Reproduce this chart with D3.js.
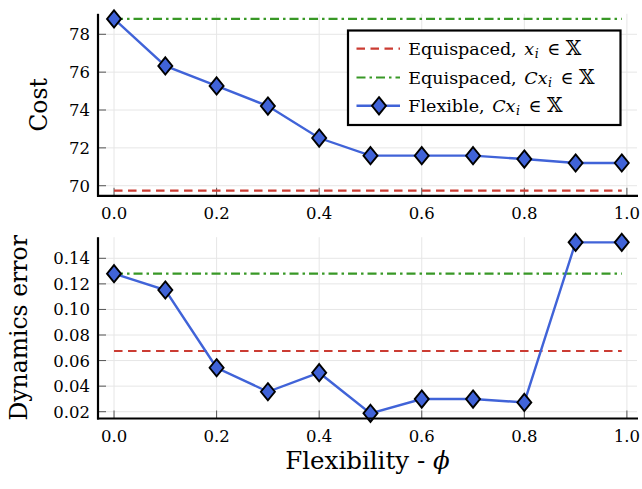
<!DOCTYPE html>
<html>
<head>
<meta charset="utf-8">
<script src="https://cdn.jsdelivr.net/npm/d3@7"></script>
<style>
  html, body { margin: 0; padding: 0; background: #fff; }
  svg { display: block; }
  text { font-family: "DejaVu Serif", "DejaVu Sans", serif; fill: #000; }
</style>
</head>
<body>
<div id="chart"></div>
<script>
// ---------------- data ----------------
const phi = [0, 0.1, 0.2, 0.3, 0.4, 0.5, 0.6, 0.7, 0.8, 0.9, 0.99];
const costFlexible = [78.81, 76.33, 75.27, 74.21, 72.52, 71.59, 71.59, 71.59, 71.41, 71.2, 71.2];
const costEquiX = 69.74;
const costEquiCX = 78.81;
const errFlexible = [0.128, 0.1152, 0.0544, 0.0356, 0.0505, 0.0187, 0.0299, 0.0299, 0.0273, 0.1525, 0.1525];
const errEquiX = 0.0675;
const errEquiCX = 0.128;
const xTicks = [0, 0.2, 0.4, 0.6, 0.8, 1.0];
const costTicks = [70, 72, 74, 76, 78];
const errTicks = [0.02, 0.04, 0.06, 0.08, 0.10, 0.12, 0.14];
const legendLabels = [
  ["Equispaced, ", "x", "i", " ∈ ", "𝕏"],
  ["Equispaced, ", "Cx", "i", " ∈ ", "𝕏"],
  ["Flexible, ", "Cx", "i", " ∈ ", "𝕏"]
];

// ---------------- styles ----------------
const W = 642, H = 489;
const BLUE = "#4063d8", RED = "#cb3c33", GREEN = "#389826";
const GRID = "#e6e6e6", TICK = "#555";
const RED_DASH = "8.5,5.5", GREEN_DASH = "9,4,2.5,4";

const svg = d3.select("#chart").append("svg").attr("width", W).attr("height", H);

function pad(vals) {
  const lo = d3.min(vals), hi = d3.max(vals), p = (hi - lo) * 0.03;
  return [lo - p, hi + p];
}

const xDom = pad(phi);
const x = d3.scaleLinear().domain(xDom).range([98.8, 637]);

function diamond(g, cx, cy) {
  g.append("path")
    .attr("d", `M${cx},${cy - 8.6} L${cx + 7},${cy} L${cx},${cy + 8.6} L${cx - 7},${cy} Z`)
    .attr("fill", BLUE).attr("stroke", "#000").attr("stroke-width", 1.9)
    .attr("stroke-linejoin", "miter");
}

function panel(opt) {
  const g = svg.append("g");
  const y = d3.scaleLinear().domain(pad(opt.values.concat([opt.equiX, opt.equiCX]))).range([opt.bottom, opt.top]);
  const L = x.range()[0], R = x.range()[1];
  const T = opt.top, B = opt.bottom;

  // grid
  g.selectAll(".gx").data(xTicks).enter().append("line")
    .attr("x1", d => x(d)).attr("x2", d => x(d)).attr("y1", T).attr("y2", B)
    .attr("stroke", GRID).attr("stroke-width", 1);
  g.selectAll(".gy").data(opt.ticks).enter().append("line")
    .attr("x1", L).attr("x2", R).attr("y1", d => y(d)).attr("y2", d => y(d))
    .attr("stroke", GRID).attr("stroke-width", 1);

  // tick marks (inward)
  g.selectAll(".tx").data(xTicks).enter().append("line")
    .attr("x1", d => x(d)).attr("x2", d => x(d)).attr("y1", B).attr("y2", B - 8)
    .attr("stroke", TICK).attr("stroke-width", 1);
  g.selectAll(".ty").data(opt.ticks).enter().append("line")
    .attr("x1", 98).attr("x2", 106).attr("y1", d => y(d)).attr("y2", d => y(d))
    .attr("stroke", TICK).attr("stroke-width", 1);

  // tick labels
  g.selectAll(".lx").data(xTicks).enter().append("text")
    .attr("x", d => x(d)).attr("y", B + 23).attr("text-anchor", "middle")
    .attr("font-size", 16.5).text(d => d3.format(".1f")(d));
  g.selectAll(".ly").data(opt.ticks).enter().append("text")
    .attr("x", 90).attr("y", d => y(d)).attr("dy", "0.36em").attr("text-anchor", "end")
    .attr("font-size", 16.5).text(d => opt.fmt(d));

  // reference lines
  const hl = d3.line().x(d => x(d[0])).y(d => y(d[1]));
  g.append("path").attr("d", hl([[phi[0], opt.equiX], [phi[phi.length - 1], opt.equiX]]))
    .attr("fill", "none").attr("stroke", RED).attr("stroke-width", 2.2).attr("stroke-dasharray", RED_DASH);
  g.append("path").attr("d", hl([[phi[0], opt.equiCX], [phi[phi.length - 1], opt.equiCX]]))
    .attr("fill", "none").attr("stroke", GREEN).attr("stroke-width", 2.2).attr("stroke-dasharray", GREEN_DASH);

  // flexible series
  const line = d3.line().x((d, i) => x(phi[i])).y(d => y(d));
  g.append("path").attr("d", line(opt.values))
    .attr("fill", "none").attr("stroke", BLUE).attr("stroke-width", 2.4);
  opt.values.forEach((v, i) => diamond(g, x(phi[i]), y(v)));

  // spines
  g.append("line").attr("x1", 98).attr("x2", 98).attr("y1", T).attr("y2", B + 1)
    .attr("stroke", "#000").attr("stroke-width", 2.2);
  g.append("line").attr("x1", 97).attr("x2", R + 1).attr("y1", B).attr("y2", B)
    .attr("stroke", "#000").attr("stroke-width", 2.2);

  // y label
  g.append("text").attr("transform", `translate(${opt.labelX},${(T + B) / 2}) rotate(-90)`)
    .attr("text-anchor", "middle").attr("font-size", 23.5).text(opt.label);
  return g;
}

panel({ values: costFlexible, equiX: costEquiX, equiCX: costEquiCX, ticks: costTicks,
  top: 13.8, bottom: 195.8, fmt: d3.format("d"), label: "Cost", labelX: 46.5 });
panel({ values: errFlexible, equiX: errEquiX, equiCX: errEquiCX, ticks: errTicks,
  top: 237.2, bottom: 418.5, fmt: d3.format(".2f"), label: "Dynamics error", labelX: 26.5 });

// x label
const xl = svg.append("text").attr("x", 367.5).attr("y", 469.3).attr("text-anchor", "middle")
  .attr("font-size", 24.5);
xl.append("tspan").text("Flexibility - ");
xl.append("tspan").attr("font-style", "italic").text("ϕ");

// legend
const lg = svg.append("g");
lg.append("rect").attr("x", 348).attr("y", 30.5).attr("width", 272.5).attr("height", 94.5)
  .attr("fill", "#fff").attr("stroke", "#000").attr("stroke-width", 2.2);
const rowY = [48.7, 77.5, 105.8];
const rowStyles = [
  { color: RED, dash: RED_DASH, marker: false },
  { color: GREEN, dash: GREEN_DASH, marker: false },
  { color: BLUE, dash: null, marker: true }
];
legendLabels.forEach((lab, i) => {
  const st = rowStyles[i];
  lg.append("line").attr("x1", 356.5).attr("x2", 400).attr("y1", rowY[i]).attr("y2", rowY[i])
    .attr("stroke", st.color).attr("stroke-width", st.marker ? 2.4 : 2.2)
    .attr("stroke-dasharray", st.dash);
  if (st.marker) diamond(lg, 379, rowY[i]);
  const t = lg.append("text").attr("x", 408.3).attr("y", rowY[i] + 6).attr("font-size", 17.5);
  t.append("tspan").text(lab[0]);
  t.append("tspan").attr("dx", 2).attr("font-style", "italic").text(lab[1]);
  t.append("tspan").attr("font-style", "italic").attr("font-size", 12.5).attr("dy", 3.5).attr("dx", 0.5).text(lab[2]);
  t.append("tspan").attr("dy", -3.5).attr("dx", 3).text(lab[3]);
  t.append("tspan").attr("font-size", 20).text(lab[4]);
});
</script>
</body>
</html>
